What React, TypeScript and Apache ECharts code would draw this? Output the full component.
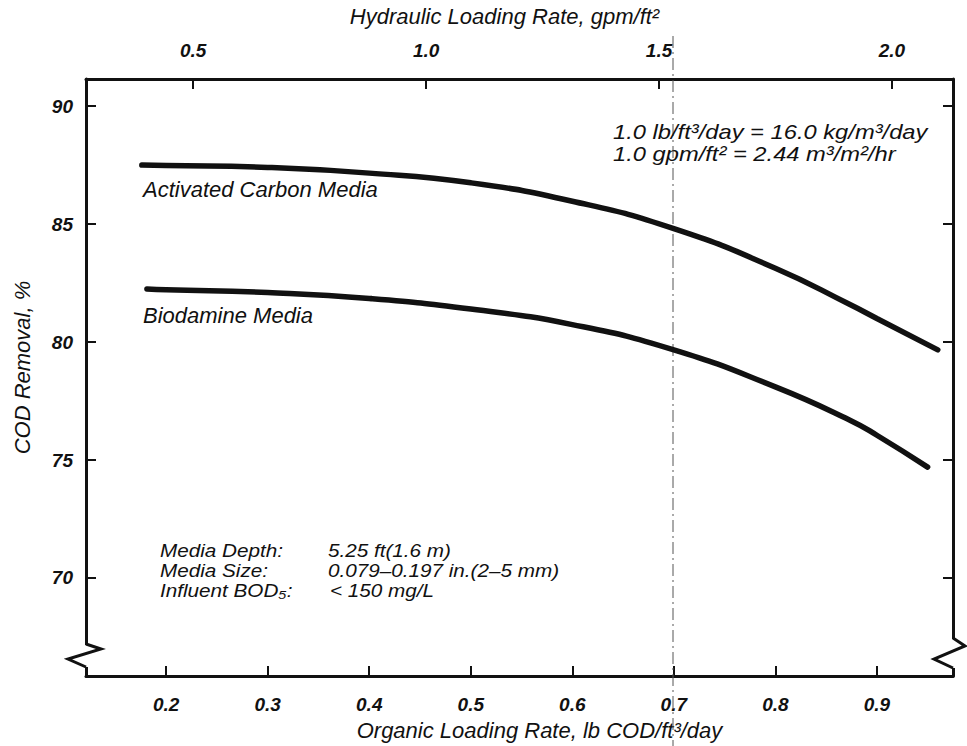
import React, { useEffect, useRef } from "react";
import * as echarts from "echarts";

// Organic loading rate (lb COD/ft3/day) vs COD removal (%)
const carbonX = [0.176, 0.2, 0.3, 0.4, 0.5, 0.6, 0.7, 0.8, 0.873, 0.9, 0.96];
const carbonY = [87.5, 87.48, 87.4, 87.16, 86.75, 85.97, 84.81, 83.13, 81.6, 81.0, 79.67];
const biodX = [0.181, 0.2, 0.3, 0.4, 0.5, 0.6, 0.7, 0.8, 0.873, 0.9, 0.95];
const biodY = [82.25, 82.22, 82.1, 81.85, 81.4, 80.74, 79.67, 78.1, 76.7, 76.05, 74.7];

const organicTicks = [0.2, 0.3, 0.4, 0.5, 0.6, 0.7, 0.8, 0.9];
const hydraulicTicks = [0.5, 1.0, 1.5, 2.0];
const removalTicks = [70, 75, 80, 85, 90];

const FONT = '"Liberation Sans", Arial, Helvetica, sans-serif';
const INK = "#111";

export default function App() {
  const ref = useRef<HTMLDivElement>(null);
  useEffect(() => {
    if (!ref.current) return;
    const chart = echarts.init(ref.current, undefined, { renderer: "svg" });
    const axisLine = { show: true, lineStyle: { color: INK, width: 3 } };
    const tickLabel = {
      color: INK,
      fontFamily: FONT,
      fontStyle: "italic" as const,
      fontWeight: "bold" as const,
      fontSize: 19,
    };
    const nameStyle = {
      color: INK,
      fontFamily: FONT,
      fontStyle: "italic" as const,
      fontSize: 22,
    };
    const ann = (text: string, x: number, y: number, size = 22, sx = 1) => ({
      type: "text",
      x,
      y,
      scaleX: sx,
      z: 20,
      style: {
        text,
        fill: INK,
        font: `italic ${size}px ${FONT}`,
        verticalAlign: "middle",
        align: "left",
      },
    });
    chart.setOption({
      animation: false,
      backgroundColor: "#fff",
      grid: { left: 86, right: 14, top: 73, bottom: 58, containLabel: false },
      xAxis: [
        {
          type: "value",
          position: "bottom",
          min: 0.121,
          max: 0.975,
          axisLine,
          splitLine: { show: false },
          axisTick: {
            inside: true,
            length: 10,
            customValues: organicTicks,
            lineStyle: { color: INK, width: 2 },
          },
          axisLabel: {
            ...tickLabel,
            margin: 19,
            customValues: organicTicks,
            formatter: (v: number) => v.toFixed(1),
          },
          name: "Organic Loading Rate, lb COD/ft³/day",
          nameLocation: "middle",
          nameGap: 39,
          nameTextStyle: { ...nameStyle, padding: [0, 0, 0, 40] },
        },
        {
          type: "value",
          position: "top",
          min: 0.27,
          max: 2.131,
          axisLine,
          splitLine: { show: false },
          axisTick: {
            inside: true,
            length: 10,
            customValues: hydraulicTicks,
            lineStyle: { color: INK, width: 2 },
          },
          axisLabel: {
            ...tickLabel,
            margin: 19,
            customValues: hydraulicTicks,
            formatter: (v: number) => v.toFixed(1),
          },
          name: "Hydraulic Loading Rate, gpm/ft²",
          nameLocation: "middle",
          nameGap: 52,
          nameTextStyle: { ...nameStyle, padding: [0, 30, 0, 0] },
        },
      ],
      yAxis: [
        {
          type: "value",
          position: "left",
          min: 65.84,
          max: 91.15,
          axisLine,
          splitLine: { show: false },
          axisTick: {
            inside: true,
            length: 10,
            customValues: removalTicks,
            lineStyle: { color: INK, width: 2 },
          },
          axisLabel: { ...tickLabel, margin: 13, customValues: removalTicks },
          name: "COD Removal, %",
          nameLocation: "middle",
          nameGap: 53,
          nameTextStyle: { ...nameStyle, padding: [0, 0, 0, 20] },
        },
        {
          type: "value",
          position: "right",
          min: 65.84,
          max: 91.15,
          axisLine,
          splitLine: { show: false },
          axisTick: {
            inside: true,
            length: 10,
            customValues: removalTicks,
            lineStyle: { color: INK, width: 2 },
          },
          axisLabel: { show: false },
        },
      ],
      series: [
        {
          name: "Activated Carbon Media",
          type: "line",
          smooth: true,
          showSymbol: false,
          xAxisIndex: 0,
          yAxisIndex: 0,
          lineStyle: { color: INK, width: 5.5, cap: "round" },
          data: carbonX.map((x, i) => [x, carbonY[i]]),
        },
        {
          name: "Biodamine Media",
          type: "line",
          smooth: true,
          showSymbol: false,
          xAxisIndex: 0,
          yAxisIndex: 0,
          lineStyle: { color: INK, width: 5.5, cap: "round" },
          data: biodX.map((x, i) => [x, biodY[i]]),
        },
      ],
      graphic: [
        // scan fold line
        {
          type: "line",
          shape: { x1: 673, y1: 36, x2: 673, y2: 746 },
          style: { stroke: "#555", lineWidth: 1, lineDash: [12, 4, 2, 4] },
          z: 1,
        },
        // axis breaks
        { type: "rect", shape: { x: 81, y: 645, width: 10, height: 22 }, style: { fill: "#fff" }, z: 10 },
        {
          type: "polyline",
          shape: { points: [[86, 644], [101, 649], [68, 659], [86, 667]] },
          style: { stroke: INK, lineWidth: 3, fill: null },
          z: 11,
        },
        { type: "rect", shape: { x: 948, y: 639, width: 10, height: 29 }, style: { fill: "#fff" }, z: 10 },
        {
          type: "polyline",
          shape: { points: [[953, 638], [965, 646], [934, 659], [953, 668]] },
          style: { stroke: INK, lineWidth: 3, fill: null },
          z: 11,
        },
        ann("Activated Carbon Media", 143, 189),
        ann("Biodamine Media", 143, 315),
        ann("1.0 lb/ft³/day = 16.0 kg/m³/day", 613, 132, 21, 1.13),
        ann("1.0 gpm/ft² = 2.44 m³/m²/hr", 613, 154, 21, 1.13),
        ann("Media Depth:", 160, 551, 18, 1.15),
        ann("Media Size:", 160, 571, 18, 1.15),
        ann("Influent BOD₅:", 160, 591, 18, 1.15),
        ann("5.25 ft(1.6 m)", 328, 551, 18, 1.15),
        ann("0.079–0.197 in.(2–5 mm)", 328, 571, 18, 1.15),
        ann("< 150 mg/L", 330, 591, 18, 1.15),
      ],
    });
    return () => chart.dispose();
  }, []);
  return (
    <div
      ref={ref}
      style={{ position: "fixed", left: 0, top: 0, width: 967, height: 746, background: "#fff" }}
    />
  );
}
